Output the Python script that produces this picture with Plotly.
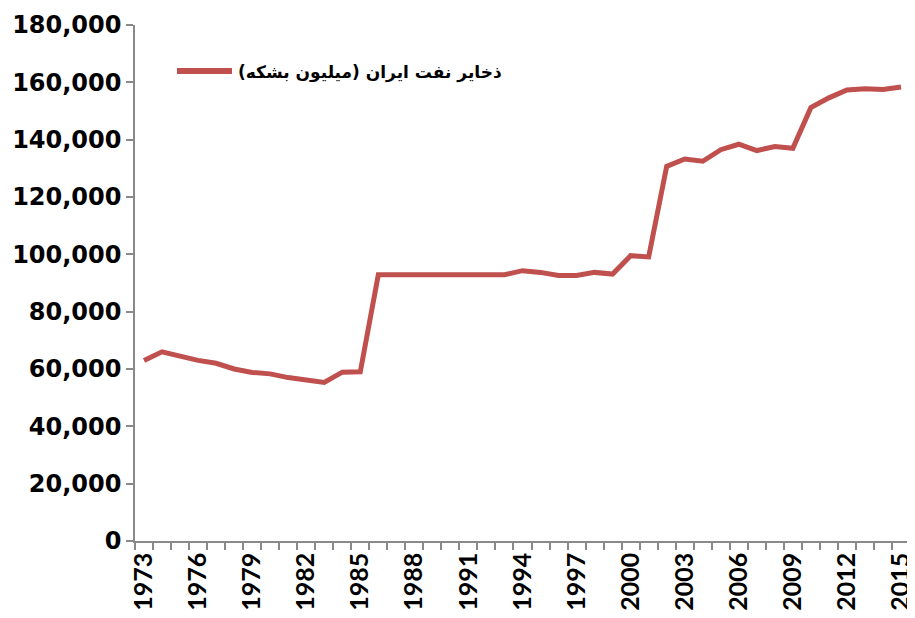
import plotly.graph_objects as go

years = list(range(1973, 2016))
reserves = [63000, 66000, 64500, 63000, 62000, 60000, 58800, 58300, 57000, 56100,
            55300, 58900, 59000, 92860, 92860, 92860, 92860, 92860, 92860, 92860,
            92860, 94300, 93700, 92600, 92600, 93700, 93100, 99530, 99080, 130690,
            133250, 132460, 136500, 138400, 136200, 137600, 137010, 151170, 154580,
            157300, 157800, 157530, 158400]
tick_years = list(range(1973, 2016, 3))
series_name = "ذخایر نفت ایران (میلیون بشکه)"

red = "#C0504D"
axis_gray = "#898989"

fig = go.Figure()
fig.add_trace(go.Scatter(x=years, y=reserves, mode="lines", name=series_name,
                         line=dict(color=red, width=5), showlegend=False))

# page body has an 8px default margin; the figure is sized to fill the rest of the window
fig.update_layout(
    width=907, height=610,
    margin=dict(l=127, r=5, t=17, b=77),
    plot_bgcolor="white", paper_bgcolor="white",
    xaxis=dict(
        range=[years[0] - 0.5, years[-1] + 0.5],
        tickmode="array", tickvals=tick_years, ticktext=[str(y) for y in tick_years],
        ticklen=0, tickangle=-90, automargin=False,
        tickfont=dict(family="Lato", size=25, color="black", weight="bold"),
        showline=True, linecolor=axis_gray, linewidth=1.5,
        showgrid=False, zeroline=False,
        minor=dict(tickmode="array", tickvals=[y - 0.5 for y in years] + [years[-1] + 0.5],
                   ticks="outside", ticklen=7, tickcolor=axis_gray, tickwidth=1.5,
                   showgrid=False),
    ),
    yaxis=dict(
        range=[0, 180000], dtick=20000, tickformat=",", automargin=False,
        ticks="outside", ticklen=7, tickcolor=axis_gray, tickwidth=1.5,
        tickfont=dict(family="DejaVu Sans", size=24, color="black", weight="bold"),
        showline=True, linecolor=axis_gray, linewidth=1.5,
        showgrid=False, zeroline=False,
    ),
)

# legend sample (drawn in paper space)
fig.add_shape(type="line", xref="paper", yref="paper",
              x0=(177 - 135) / 775, x1=(232 - 135) / 775,
              y0=(541 - 71) / 516, y1=(541 - 71) / 516,
              line=dict(color=red, width=6))
fig.add_annotation(text=series_name + "\u200f", xref="paper", yref="paper",
                   x=(236 - 135) / 775, y=(541 - 72) / 516,
                   xanchor="left", yanchor="middle", showarrow=False,
                   font=dict(family="DejaVu Sans", size=17, color="black", weight="bold"))

fig.write_html("out.html")
